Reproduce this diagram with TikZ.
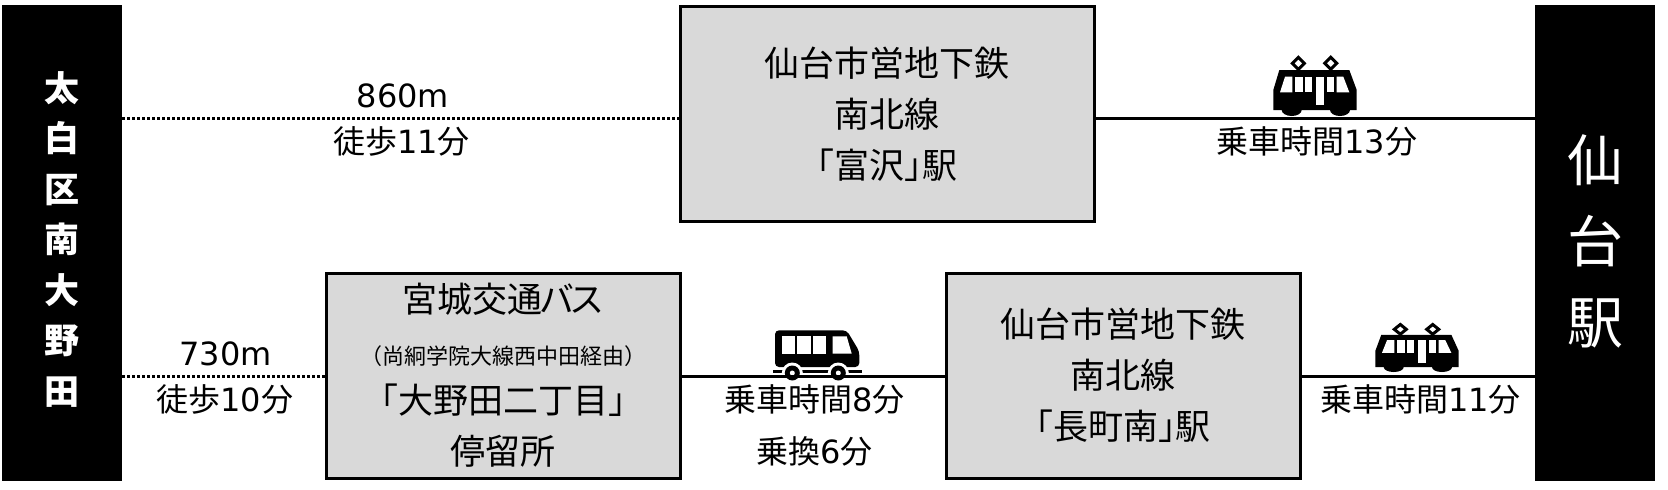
\documentclass[tikz,border=0pt]{standalone}
\usepackage{fontspec}
\setmainfont{Noto Sans CJK JP}
\newfontfamily\latnfont{DejaVu Sans}
\newcommand{\latn}[1]{{\latnfont #1}}
\newcommand{\halfkern}{\hspace*{-.5em}}
\definecolor{stopgray}{HTML}{D9D9D9}
\tikzset{
  stopbox/.style={draw=black, line width=1.5pt, fill=stopgray, inner sep=0pt, align=center,
    font=\fontsize{17.5}{25.5}\selectfont},
  endbar/.style={fill=black, inner sep=0pt, minimum width=60pt, minimum height=238pt},
  barlabel/.style={text=white, inner sep=0pt, align=center},
  walk/.style={line width=1.5pt, dash pattern=on 1.25pt off 1.25pt},
  ride/.style={line width=1.5pt},
  lbl/.style={inner sep=0pt, font=\fontsize{16}{20}\selectfont},
  tram/.pic={
    \fill[black] (-35.7,-46) -- (34.3,-46) -- (41.7,-26) -- (41.7,-6) -- (-41.7,-6) -- (-41.7,-26) -- cycle;
    \fill[black] (-23.3,-6) ellipse [x radius=10, y radius=6];
    \fill[black] (25,-6) ellipse [x radius=10, y radius=6];
    \fill[white] (-30,-39.3) -- (-22.7,-39.3) -- (-22.7,-23.7) -- (-35,-23.7) -- cycle;
    \fill[white] (-20,-39.3) rectangle (-12.3,-23.7);
    \fill[white] (-10,-39.3) rectangle (-2.7,-23.7);
    \fill[white] (1,-39.3) rectangle (9,-11);
    \fill[white] (11.7,-39.3) rectangle (19,-23.7);
    \fill[white] (21.7,-39.3) -- (28.3,-39.3) -- (34.3,-23.7) -- (21.7,-23.7) -- cycle;
    \foreach \px in {-16.7,15.7}
      \draw[black, fill=white, line width=1.5pt] (\px-6,-52.7) -- (\px,-58.7) -- (\px+6,-52.7) -- (\px,-46.7) -- cycle;
  },
  coach/.pic={
    \fill[black, rounded corners=2pt] (-42,-9) -- (-42,-45.7) -- (29.7,-45.7) -- (42.3,-24.7) -- (42.3,-9) -- cycle;
    \fill[black] (-44.3,-6.3) rectangle (44.7,-3);
    \fill[white] (-35.3,-39.7) rectangle (-22,-22.3);
    \fill[white] (-19.7,-39.7) rectangle (-6.3,-22.3);
    \fill[white] (-4.3,-39.7) rectangle (9,-22.3);
    \fill[white] (15.7,-39.7) -- (29.7,-39.7) -- (34.7,-22.3) -- (15.7,-22.3) -- cycle;
    \foreach \wx in {-24.7,21.3} {
      \fill[white] (\wx,-3) circle [radius=10.5];
      \fill[black] (\wx,-3) circle [radius=7.5];
      \fill[white] (\wx,-3) circle [radius=2.5];
    }
  }
}
\begin{document}
\begin{tikzpicture}[x=0.5pt, y=-0.5pt, node distance=26pt]
    \useasboundingbox (0,0) rectangle (1668,489);

    \node (oono) [endbar] at (62,243) {};
    \node (oonotext) [barlabel, font=\fontsize{17.5}{25.25}\selectfont\bfseries] at (62,239)
      {太\\白\\区\\南\\大\\野\\田};
    \node (sendai) [endbar] at (1595,243) {};
    \node (sendaitext) [barlabel, font=\fontsize{28}{40.5}\selectfont] at (1595,241) {仙\\台\\駅};

    \node (tomizawa) [stopbox, minimum width=207pt, minimum height=107.5pt] at (887.2,114.2)
      {仙台市営地下鉄\\南北線\\\halfkern「富沢」\kern-.5em 駅};
    \node (busstop) [stopbox, minimum width=177pt, minimum height=102.5pt] at (503.4,375.5)
      {宮城交通\kern-.1em バ\kern-.15em ス\\[.5pt]{\fontsize{11}{25.5}\selectfont （尚絅学院大線西中田経由）}\\[-1pt]「大野田二丁目」\\停留所};
    \node (nagamachi) [stopbox, minimum width=177pt, minimum height=102.5pt] at (1123,375.5)
      {仙台市営地下鉄\\南北線\\\halfkern「長町南」\kern-.5em 駅};

    \coordinate (row1) at (0,118.3);
    \coordinate (row2) at (0,376);

    \pic at (1315,116) {tram};
    \pic [yscale=.81] at (1417,372) {tram};
    \pic at (817,376) {coach};

    \path[walk] (oono.east |- row1) edge
      node[lbl, above=4.5pt, xshift=1.2pt] {\latn{860m}}
      node[lbl, below=3.5pt, xshift=.5pt] {徒歩\latn{11}分} (tomizawa.west |- row1);
    \path[ride] (tomizawa.east |- row1) edge
      node[lbl, below=3.5pt, xshift=.8pt] {乗車時間\latn{13}分} (sendai.west |- row1);
    \path[walk] (oono.east |- row2) edge
      node[lbl, above=4.5pt, xshift=1pt] {\latn{730m}}
      node[lbl, below=3.5pt, xshift=.5pt] {徒歩\latn{10}分} (busstop.west |- row2);
    \path[ride] (busstop.east |- row2) edge
      node (ride8) [lbl, below=3.5pt, xshift=.7pt] {乗車時間\latn{8}分} (nagamachi.west |- row2);
    \path[ride] (nagamachi.east |- row2) edge
      node[lbl, below=3.5pt, xshift=1.2pt] {乗車時間\latn{11}分} (sendai.west |- row2);

    \node (change) [lbl, below of=ride8] {乗換\latn{6}分};
  \end{tikzpicture}
\end{document}
